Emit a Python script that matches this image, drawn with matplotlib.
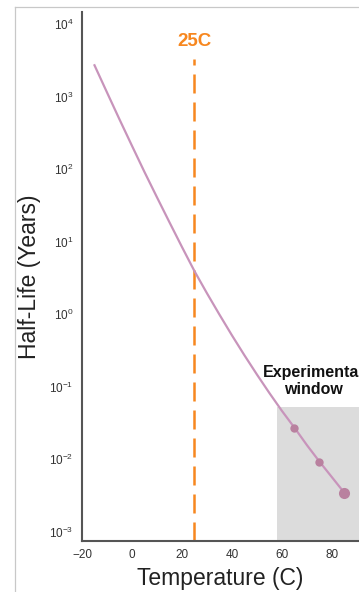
import matplotlib
matplotlib.use("Agg")
import matplotlib.pyplot as plt
from matplotlib.lines import Line2D

# 半衰期随温度的变化
temps = [-15, -10, -5, 0, 5, 10, 15, 20, 25, 30, 35, 40, 45, 50, 55, 60, 65, 70, 75, 80, 85]
half_life = [2700, 1140, 484, 209, 91, 40.7, 18.4, 8.4, 3.9, 1.93, 0.98, 0.507, 0.269,
             0.146, 0.081, 0.046, 0.027, 0.0155, 0.0092, 0.0056, 0.0034]

# 实验测得的点
exp_temps = [65, 75, 85]
exp_half_life = [0.027, 0.0092, 0.0034]
exp_sizes = [6, 6, 8]

room_temp = 25
window_start = 58
window_top = 0.052

plt.rcParams['font.family'] = ['Liberation Sans', 'DejaVu Sans']
plt.rcParams['mathtext.fontset'] = 'custom'
plt.rcParams['mathtext.rm'] = 'Liberation Sans'

fig = plt.figure(figsize=(3.59, 5.92), dpi=100)
ax = fig.add_axes([0.2284, 0.0861, 0.7716, 0.8936])

# 实验窗口的灰色区域
ax.fill_between([window_start, 95], 1e-4, window_top, color='#dcdcdc', zorder=0, linewidth=0)

ax.plot(temps, half_life, color='#c894bb', linewidth=1.6, zorder=2)
for t, h, s in zip(exp_temps, exp_half_life, exp_sizes):
    ax.plot(t, h, 'o', color='#b9819f', markersize=s, markeredgewidth=0, zorder=3)

# 25C 虚线
ax.axvline(room_temp, ymin=0, ymax=0.912, color='#f7871f', linewidth=1.8,
           dashes=(7.6, 3.6), zorder=1)
ax.text(room_temp, 10 ** 3.76, '25C', color='#f7871f', fontsize=13.5, fontweight='bold',
        ha='center', va='center')

ax.text(72.5, 0.12, 'Experimental\nwindow', fontsize=11.5, fontweight='bold',
        ha='center', va='center', linespacing=1.15, color='#111111')

ax.set_yscale('log')
ax.set_ylim(10 ** -3.131, 10 ** 4.166)
ax.set_xlim(-20, 90.8)
ax.set_yticks([10.0 ** k for k in range(-3, 5)])
ax.set_yticklabels([r'$10^{%d}$' % k for k in range(-3, 5)])
ax.minorticks_off()
ax.set_xticks([-20, 0, 20, 40, 60, 80])
ax.set_xticklabels(['\u221220', '0', '20', '40', '60', '80'])
ax.tick_params(length=0, labelsize=8.5, colors='#333333', pad=6)

for side in ['top', 'right']:
    ax.spines[side].set_visible(False)
for side in ['left', 'bottom']:
    ax.spines[side].set_color('#555555')
    ax.spines[side].set_linewidth(1.5)

ax.set_xlabel('Temperature (C)', fontsize=16.5, color='#222222', labelpad=4)
ax.set_ylabel('Half-Life (Years)', fontsize=16.5, color='#222222', labelpad=6)

# 外框线
fig.add_artist(Line2D([0.0418, 0.0418], [0, 0.988], color='#c8c8c8', linewidth=0.9))
fig.add_artist(Line2D([0.0418, 1], [0.988, 0.988], color='#c8c8c8', linewidth=0.9))

fig.savefig('out.png', dpi=100)
